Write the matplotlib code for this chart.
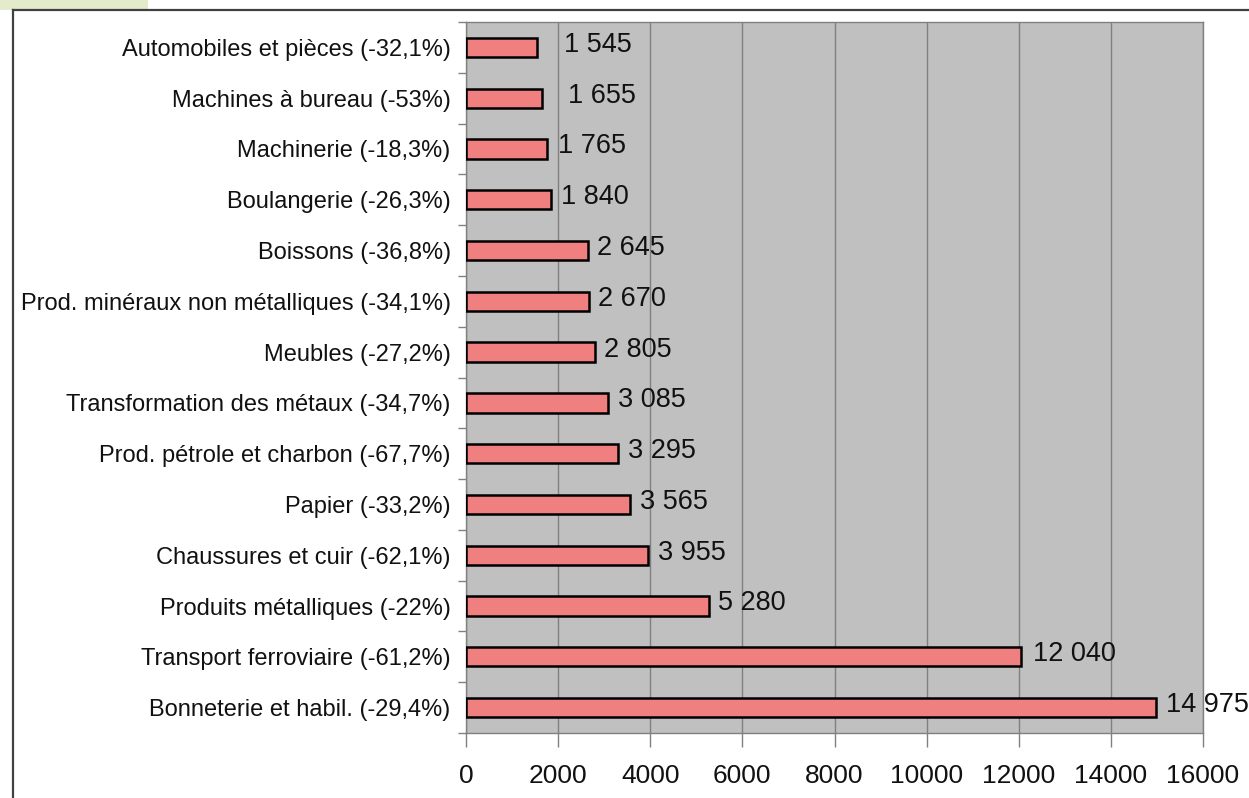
import matplotlib
matplotlib.use("Agg")
import matplotlib.pyplot as plt
from matplotlib.patches import Rectangle
from matplotlib.lines import Line2D
import numpy as np

categories = [
    "Automobiles et pièces (-32,1%)",
    "Machines à bureau (-53%)",
    "Machinerie (-18,3%)",
    "Boulangerie (-26,3%)",
    "Boissons (-36,8%)",
    "Prod. minéraux non métalliques (-34,1%)",
    "Meubles (-27,2%)",
    "Transformation des métaux (-34,7%)",
    "Prod. pétrole et charbon (-67,7%)",
    "Papier (-33,2%)",
    "Chaussures et cuir (-62,1%)",
    "Produits métalliques (-22%)",
    "Transport ferroviaire (-61,2%)",
    "Bonneterie et habil. (-29,4%)",
]
values = [1545, 1655, 1765, 1840, 2645, 2670, 2805, 3085, 3295, 3565, 3955, 5280, 12040, 14975]
value_labels = ["1 545", "1 655", "1 765", "1 840", "2 645", "2 670", "2 805", "3 085",
                "3 295", "3 565", "3 955", "5 280", "12 040", "14 975"]
xticks = [0, 2000, 4000, 6000, 8000, 10000, 12000, 14000, 16000]
# label horizontal offsets (data units) as placed in the original
label_dx = [590, 550, 230, 230, 200, 200, 200, 220, 220, 220, 220, 180, 260, 230]

plt.rcParams['font.family'] = ['Liberation Sans', 'DejaVu Sans']

fig = plt.figure(figsize=(12.49, 7.98), dpi=100)
W, H = 1249, 798

# decorative header strip and frame
fig.patches.append(Rectangle((0, 1 - 10 / H), 148 / W, 10 / H, transform=fig.transFigure,
                             facecolor="#E3EBCB", edgecolor="none"))
fig.lines.append(Line2D([13 / W, 13 / W], [0, 1 - 10 / H], transform=fig.transFigure,
                        color="#404040", lw=1.6))
fig.lines.append(Line2D([13 / W, 1], [1 - 10 / H, 1 - 10 / H], transform=fig.transFigure,
                        color="#404040", lw=1.6))

ax = fig.add_axes([466 / W, 1 - 733 / H, (1203 - 466) / W, (733 - 22) / H])
ax.set_facecolor("#C0C0C0")

y = np.arange(len(categories))
ax.barh(y, values, height=0.38, color="#F08080", edgecolor="black", linewidth=1.8, zorder=3)

for yi, v, lab, dx in zip(y, values, value_labels, label_dx):
    ax.text(v + dx, yi - 0.05, lab, va="center", ha="left", fontsize=19.5, color="#111111", zorder=4,
            clip_on=False)

ax.set_xlim(0, 16000)
ax.set_ylim(len(categories) - 0.5, -0.5)
ax.set_xticks(xticks)
ax.set_xticklabels([str(t) for t in xticks], fontsize=19, color="#111111")
ax.set_yticks(y)
ax.set_yticklabels(categories, fontsize=17, color="#111111")
ax.set_yticks(np.arange(-0.5, len(categories), 1.0), minor=True)
ax.tick_params(axis="y", which="major", length=0, pad=11)
ax.tick_params(axis="y", which="minor", length=6, color="#808080", width=1)
ax.tick_params(axis="x", length=10, color="#808080", width=1, pad=12)

ax.grid(axis="x", color="#808080", linewidth=1, zorder=1)
ax.set_axisbelow(True)
for s in ax.spines.values():
    s.set_color("#808080")
    s.set_linewidth(1)

fig.savefig("out.png", dpi=100)
